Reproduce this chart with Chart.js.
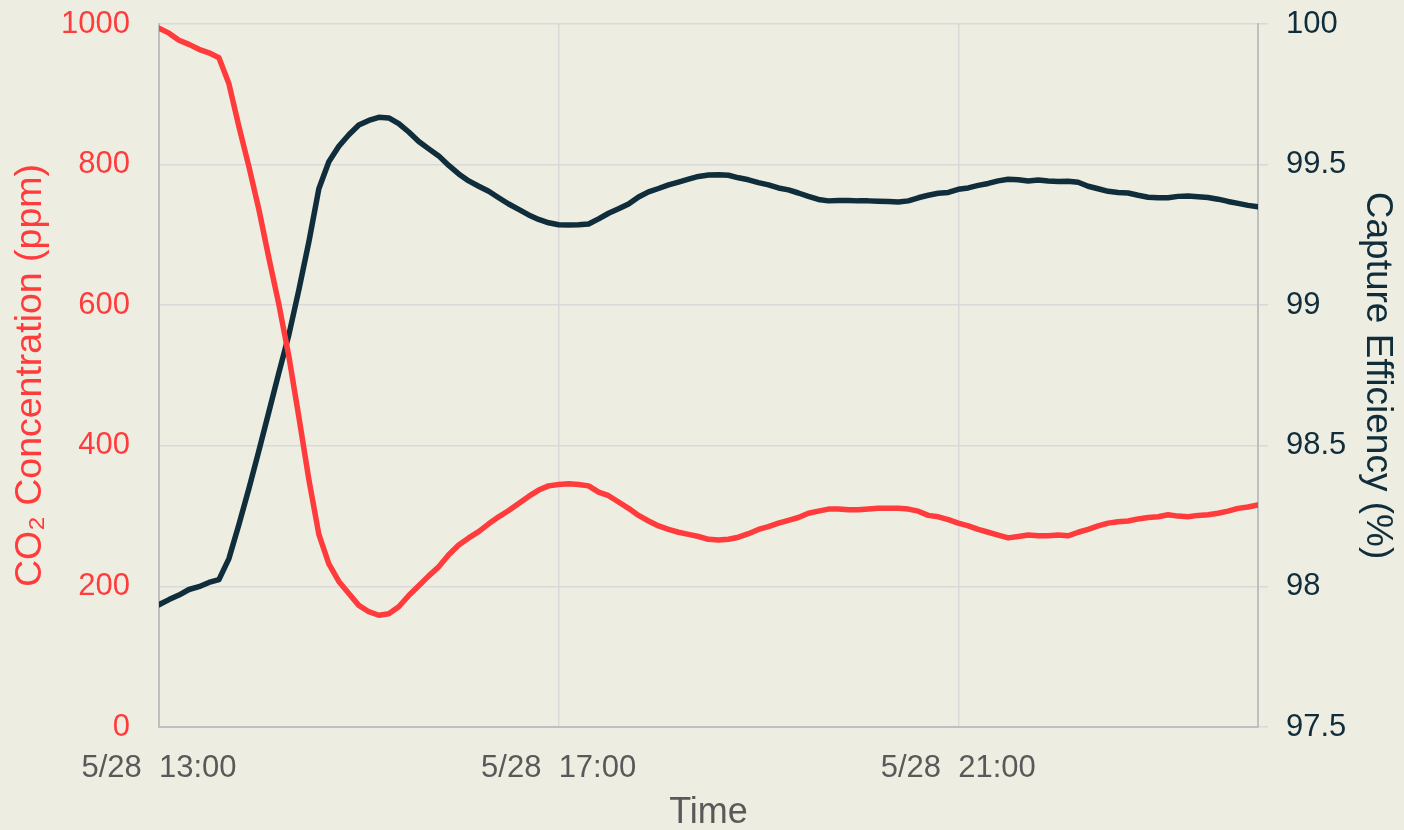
<!DOCTYPE html>
<html>
<head>
<meta charset="utf-8">
<title>CO2 Concentration and Capture Efficiency</title>
<script src="https://cdn.jsdelivr.net/npm/chart.js@4.4.1/dist/chart.umd.min.js"></script>
<style>
  html, body { margin: 0; padding: 0; background: #EEEDE2; }
  #chart { display: block; }
</style>
</head>
<body>
<canvas id="chart" width="1404" height="830"></canvas>
<script>
// Hours since 5/28 13:00
const hours = [
  0, 0.1, 0.2, 0.3, 0.4, 0.5, 0.6, 0.7, 0.8, 0.9,
  1, 1.1, 1.2, 1.3, 1.4, 1.5, 1.6, 1.7, 1.8, 1.9,
  2, 2.1, 2.2, 2.3, 2.4, 2.5, 2.6, 2.7, 2.8, 2.9,
  3, 3.1, 3.2, 3.3, 3.4, 3.5, 3.6, 3.7, 3.8, 3.9,
  4, 4.1, 4.2, 4.3, 4.4, 4.5, 4.6, 4.7, 4.8, 4.9,
  5, 5.1, 5.2, 5.3, 5.4, 5.5, 5.6, 5.7, 5.8, 5.9,
  6, 6.1, 6.2, 6.3, 6.4, 6.5, 6.6, 6.7, 6.8, 6.9,
  7, 7.1, 7.2, 7.3, 7.4, 7.5, 7.6, 7.7, 7.8, 7.9,
  8, 8.1, 8.2, 8.3, 8.4, 8.5, 8.6, 8.7, 8.8, 8.9,
  9, 9.1, 9.2, 9.3, 9.4, 9.5, 9.6, 9.7, 9.8, 9.9,
  10, 10.1, 10.2, 10.3, 10.4, 10.5, 10.6, 10.7, 10.8, 10.9,
  11
];

// CO2 concentration (ppm), left axis
const co2 = [
  994, 987, 977, 971, 964, 959, 952, 915, 854, 797,
  736, 667, 601, 527, 441, 352, 274, 232, 207, 190,
  173, 164, 159, 161, 171, 187, 201, 215, 228, 245,
  259, 269, 278, 289, 299, 308, 318, 328, 337, 343,
  345, 346, 345, 343, 334, 329, 320, 311, 301, 293,
  286, 281, 277, 274, 271, 267, 266, 267, 270, 275,
  281, 285, 290, 294, 298, 304, 307, 310, 310, 309,
  309, 310, 311, 311, 311, 310, 307, 301, 299, 295,
  290, 286, 281, 277, 273, 269, 271, 273, 272, 272,
  273, 272, 277, 281, 286, 290, 292, 293, 296, 298,
  299, 302, 300, 299, 301, 302, 304, 307, 311, 313,
  316
];

// Capture efficiency (%), right axis
const efficiency = [
  97.935, 97.953, 97.969, 97.989, 97.999, 98.014, 98.024, 98.099, 98.220, 98.348,
  98.483, 98.621, 98.760, 98.895, 99.055, 99.225, 99.414, 99.510, 99.565, 99.606,
  99.641, 99.657, 99.668, 99.666, 99.646, 99.616, 99.582, 99.556, 99.531, 99.497,
  99.467, 99.442, 99.423, 99.405, 99.382, 99.360, 99.341, 99.321, 99.305, 99.293,
  99.286, 99.285, 99.286, 99.289, 99.307, 99.327, 99.343, 99.360, 99.385, 99.403,
  99.415, 99.428, 99.438, 99.448, 99.458, 99.463, 99.464, 99.462, 99.453, 99.446,
  99.436, 99.428, 99.417, 99.410, 99.399, 99.387, 99.376, 99.371, 99.372, 99.372,
  99.371, 99.371, 99.370, 99.369, 99.367, 99.371, 99.382, 99.391, 99.398, 99.401,
  99.412, 99.417, 99.426, 99.433, 99.442, 99.448, 99.446, 99.442, 99.445, 99.442,
  99.440, 99.441, 99.437, 99.423, 99.414, 99.405, 99.401, 99.399, 99.391, 99.384,
  99.382, 99.382, 99.387, 99.388, 99.386, 99.383, 99.377, 99.369, 99.362, 99.355,
  99.350
];

// Tick positions and labels on the time axis
const xTickHours = [0, 4, 8];
const xTickLabels = ['5/28  13:00', '5/28  17:00', '5/28  21:00'];

const RED = '#FF3B3B';
const NAVY = '#0F2D3A';
const GREY_TEXT = '#595959';
const GRID = '#D9D9D9';
const AXIS = '#BFBFBF';
const FONT = '"Liberation Sans", Arial, sans-serif';

const co2Points = hours.map((h, i) => ({ x: h, y: co2[i] }));
const effPoints = hours.map((h, i) => ({ x: h, y: efficiency[i] }));

// fixed axis widths, and no extra label padding above/below the plot
function fixVertical(width) {
  return (scale) => {
    scale.width = width;
    scale.paddingTop = 0;
    scale.paddingBottom = 0;
  };
}

new Chart(document.getElementById('chart'), {
  type: 'line',
  data: {
    datasets: [{
      label: 'CO2 Concentration',
      data: co2Points,
      yAxisID: 'y',
      borderColor: RED,
      borderWidth: 5.5,
      pointRadius: 0,
      tension: 0,
      borderJoinStyle: 'round',
      borderCapStyle: 'round',
      fill: false
    }, {
      label: 'Capture Efficiency',
      data: effPoints,
      yAxisID: 'y1',
      borderColor: NAVY,
      borderWidth: 5.5,
      pointRadius: 0,
      tension: 0,
      borderJoinStyle: 'round',
      borderCapStyle: 'round',
      fill: false
    }]
  },
  options: {
    responsive: false,
    animation: false,
    events: [],
    layout: { padding: { top: 24, left: 0, right: 0, bottom: 0 } },
    plugins: {
      legend: { display: false },
      tooltip: { enabled: false }
    },
    scales: {
      x: {
        type: 'linear',
        min: 0,
        max: 11,
        afterBuildTicks: (scale) => {
          scale.ticks = xTickHours.map(v => ({ value: v }));
        },
        afterFit: (scale) => { scale.height = 103; },
        ticks: {
          autoSkip: false,
          maxRotation: 0,
          padding: 23,
          color: GREY_TEXT,
          font: { family: FONT, size: 31 },
          callback: (value) => {
            const i = xTickHours.indexOf(value);
            return i >= 0 ? xTickLabels[i] : '';
          }
        },
        grid: { color: GRID, lineWidth: 1.5, drawTicks: false },
        border: { display: true, color: AXIS, width: 2 },
        title: {
          display: true,
          text: 'Time',
          color: GREY_TEXT,
          font: { family: FONT, size: 36, lineHeight: 1 },
          padding: { top: 0, bottom: -1 }
        }
      },
      y: {
        position: 'left',
        min: 0,
        max: 1000,
        afterFit: fixVertical(159),
        ticks: {
          stepSize: 200,
          padding: 29,
          color: RED,
          font: { family: FONT, size: 31 },
          callback: (value) => String(value)
        },
        grid: { color: GRID, lineWidth: 1.5, drawTicks: false },
        border: { display: true, color: AXIS, width: 2 },
        title: {
          display: true,
          text: 'CO\u2082 Concentration (ppm)',
          color: RED,
          font: { family: FONT, size: 37.5, lineHeight: 1 },
          padding: { top: 12, bottom: 0 }
        }
      },
      y1: {
        position: 'right',
        min: 97.5,
        max: 100,
        afterFit: fixVertical(146),
        ticks: {
          stepSize: 0.5,
          padding: 18,
          color: NAVY,
          font: { family: FONT, size: 31 },
          callback: (value) => String(+value.toFixed(1))
        },
        grid: { color: GRID, lineWidth: 1.5, drawOnChartArea: false, drawTicks: true, tickLength: 10 },
        border: { display: true, color: AXIS, width: 2 },
        title: {
          display: true,
          text: 'Capture Efficiency (%)',
          color: NAVY,
          font: { family: FONT, size: 37, lineHeight: 1 },
          padding: { top: 8, bottom: 0 }
        }
      }
    }
  }
});
</script>
</body>
</html>
